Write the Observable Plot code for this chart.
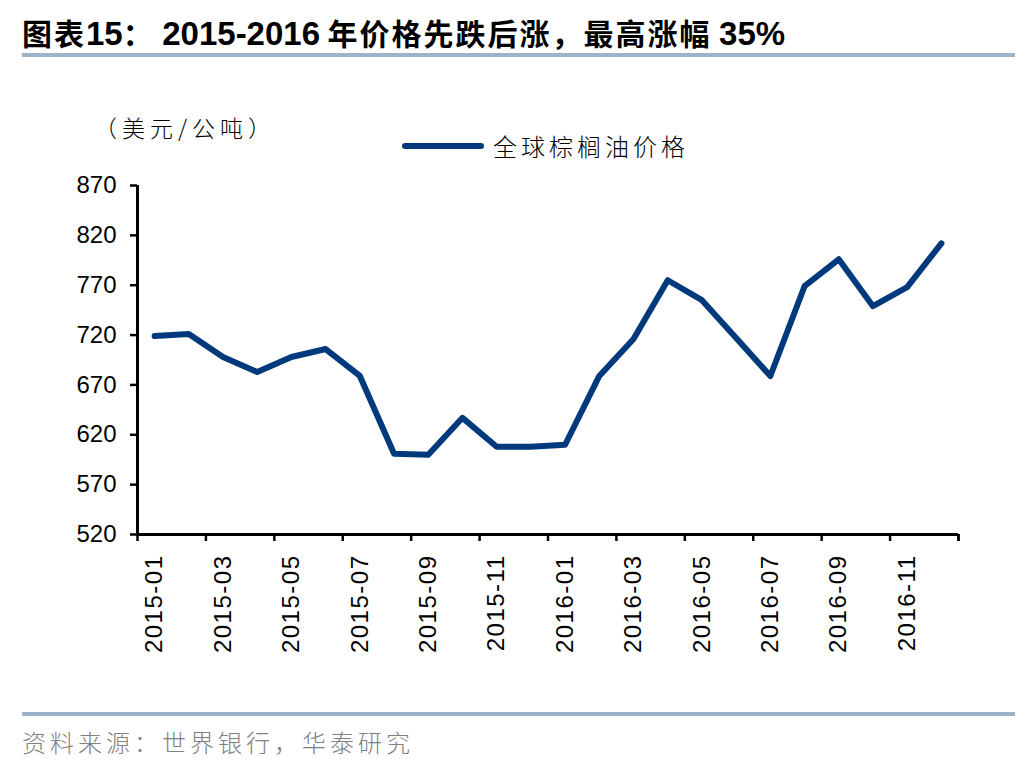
<!DOCTYPE html>
<html>
<head>
<meta charset="utf-8">
<script src="https://cdn.jsdelivr.net/npm/d3@7"></script>
<script src="https://cdn.jsdelivr.net/npm/@observablehq/plot@0.6"></script>
<style>
  html, body { margin: 0; padding: 0; background: #fff; }
  #page { position: relative; width: 1036px; height: 764px; overflow: hidden; background: #fff; }
  .cjk { font-family: "Noto Sans CJK SC", "Noto Sans", sans-serif; }
  #title { position: absolute; left: 22px; top: 12px; font-size: 30px; font-weight: bold; color: #000; line-height: 40px;
           white-space: nowrap; }
  #title .cjk { letter-spacing: 2px; }
  #title .num { font-family: "Liberation Sans", Arial, sans-serif; font-size: 33px; }
  #topline { position: absolute; left: 22px; top: 53px; width: 993px; height: 4px; background: #9db3cc; }
  #unit { position: absolute; left: 94px; top: 110px; font-size: 23px; color: #000; letter-spacing: 5px; font-weight: 300; }
  #legend { position: absolute; left: 402px; top: 128px; display: flex; align-items: center; }
  #legend .swatch { width: 82px; height: 6px; border-radius: 3px; background: #003a7c; }
  #legend .lab { margin-left: 9px; font-size: 24px; letter-spacing: 4px; font-weight: 300; color: #000; }
  #chart { position: absolute; left: 0; top: 160px; }
  #chart g[aria-label="x-axis tick label"] text { letter-spacing: 1.5px; }
  #botline { position: absolute; left: 22px; top: 712px; width: 993px; height: 4px; background: #9db3cc; }
  #source { position: absolute; left: 22px; top: 724px; font-size: 24px; color: #808080; letter-spacing: 4px; font-weight: 300; }
</style>
</head>
<body>
<div id="page">
  <div id="title"><span class="cjk">图表</span><span class="num">15</span><span class="cjk">：</span>&nbsp;<span class="num">2015-2016</span> <span class="cjk">年价格先跌后涨，最高涨幅</span> <span class="num">35%</span></div>
  <div id="topline"></div>
  <div id="unit" class="cjk">（美元/公吨）</div>
  <div id="legend"><div class="swatch"></div><div class="lab cjk">全球棕榈油价格</div></div>
  <div id="chart"></div>
  <div id="botline"></div>
  <div id="source" class="cjk">资料来源：世界银行，华泰研究</div>
</div>
<script>
const months = ["2015-01","2015-02","2015-03","2015-04","2015-05","2015-06","2015-07","2015-08","2015-09","2015-10","2015-11","2015-12",
                "2016-01","2016-02","2016-03","2016-04","2016-05","2016-06","2016-07","2016-08","2016-09","2016-10","2016-11","2016-12"];
const palmOilPrice = [719, 721, 698, 683, 698, 706, 679, 601, 600, 637, 608, 608,
                      610, 679, 716, 775, 755, 717, 679, 769, 796, 749, 768, 812];
const yTicks = [520, 570, 620, 670, 720, 770, 820, 870];
const seriesName = "全球棕榈油价格";

const data = months.map((m, i) => ({i, month: m, value: palmOilPrice[i]}));
const n = months.length;
const boundaryTicks = d3.range(-0.5, n, 2).concat([n - 0.5]);
const labelTicks = d3.range(0, n, 2);

const chart = Plot.plot({
  width: 1036,
  height: 520,
  marginLeft: 137,
  marginRight: 78,
  marginTop: 25,
  marginBottom: 146,
  style: {fontFamily: "'Liberation Sans', Arial, sans-serif", fontSize: "24px", color: "#000", background: "transparent", overflow: "visible"},
  x: {type: "linear", domain: [-0.5, n - 0.5]},
  y: {domain: [520, 870]},
  marks: [
    Plot.axisY({ticks: yTicks, tickSize: 7, tickPadding: 14, fontSize: 24, strokeWidth: 2.5, label: null}),
    Plot.axisX({ticks: boundaryTicks, tickSize: 7, tickFormat: () => "", strokeWidth: 2.5, label: null}),
    Plot.axisX({ticks: labelTicks, tickSize: 0, tickPadding: 20, tickRotate: -90, fontSize: 24, tickFormat: i => months[i], label: null}),
    Plot.ruleY([520], {stroke: "#000", strokeWidth: 3}),
    Plot.ruleX([-0.5], {stroke: "#000", strokeWidth: 3}),
    Plot.line(data, {x: "i", y: "value", stroke: "#003a7c", strokeWidth: 6, strokeLinejoin: "round", strokeLinecap: "round"})
  ]
});
document.getElementById("chart").appendChild(chart);
</script>
</body>
</html>
